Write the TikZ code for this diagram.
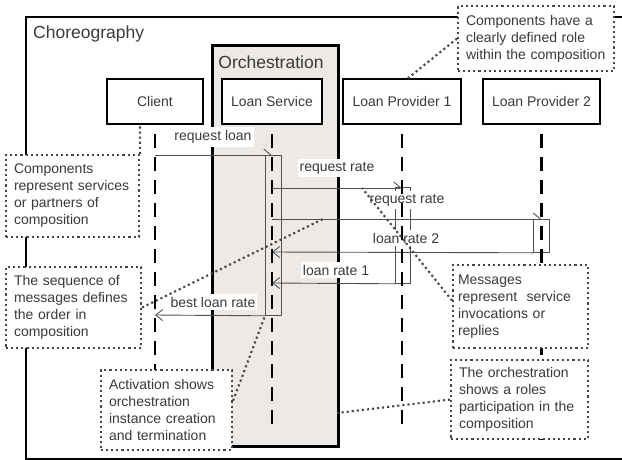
\documentclass[tikz,border=0pt]{standalone}
\usepackage{fontspec}
\setmainfont{Liberation Sans}
\usetikzlibrary{arrows.meta}

\definecolor{orchfill}{RGB}{236,233,230}
\definecolor{inkgray}{RGB}{58,58,58}
\definecolor{msggray}{RGB}{80,80,80}
\definecolor{dotgray}{RGB}{70,70,70}

\tikzset{
  txt/.style={font=\fontsize{14}{16}\selectfont, text=inkgray},
  titletxt/.style={font=\fontsize{17.5}{20}\selectfont, text=inkgray},
  header/.style={draw=black, line width=2pt, fill=white, minimum height=45pt,
    inner sep=0pt, txt},
  lifeline/.style={draw=black, line width=2.3pt, dash pattern=on 14pt off 9pt,
    dash phase=14pt},
  activation/.style={draw=msggray, line width=0.8pt, inner sep=0pt, anchor=north west},
  msg/.style={draw=msggray, line width=0.9pt},
  callmsg/.style={msg, -{Straight Barb[left, length=7pt, width=12pt]}},
  replymsg/.style={msg, -{Straight Barb[length=7pt, width=11pt]}},
  msglabel/.style={txt, fill=white, inner xsep=2pt, inner ysep=3pt},
  dots/.style={draw=dotgray, line width=2.1pt, line cap=butt,
    dash pattern=on 2.1pt off 3pt},
  note/.style={dots, fill=white, font=\fontsize{14}{17}\selectfont, text=inkgray,
    align=left, anchor=north west, inner xsep=8pt, inner ysep=0pt},
}

\begin{document}
\begin{tikzpicture}[x=1pt, y=-1pt]
  \useasboundingbox (0,0) rectangle (622,459);
  \clip (0,0) rectangle (622,459);

  % choreography frame (its right side runs off the page)
  \node[draw=black, line width=2.2pt, inner sep=0pt, anchor=north west,
        minimum width=640pt, minimum height=442pt] (chor) at (25,16) {};
  \node[titletxt, anchor=west, inner sep=0pt] (chortitle) at (33,34) {Choreography};

  % orchestration frame
  \node[draw=black, line width=3.4pt, fill=orchfill, inner sep=0pt, anchor=north west,
        minimum width=126pt, minimum height=401pt] (orch) at (211,44) {};
  \node[titletxt, inner sep=0pt] (orchtitle) at (271,62) {Orchestration};

  % participants
  \node[header, minimum width=96pt]  (client) at (155,101.5)   {Client};
  \node[header, minimum width=100pt] (ls)     at (272,101.5)   {Loan Service};
  \node[header, minimum width=118pt] (lp1)    at (402,101.5)   {Loan Provider 1};
  \node[header, minimum width=117pt] (lp2)    at (541.5,101.5) {Loan Provider 2};

  % activation bars
  \node[activation, minimum width=16pt, minimum height=160pt] (actls) at (265,155) {};
  \node[activation, minimum width=15pt, minimum height=96pt]  (actp1) at (395,187) {};
  \node[activation, minimum width=16pt, minimum height=33pt]  (actp2) at (533,219) {};

  % points on the lifelines
  \coordinate (clientEnd) at (155,440);
  \coordinate (lsEnd)     at (272,432);
  \coordinate (lp1End)    at (402,432);
  \coordinate (lp2End)    at (541.5,440);

  \coordinate (c1)  at (155,155);   \coordinate (s1) at (272,155);
  \coordinate (s2)  at (272,188);   \coordinate (p2) at (402,188);
  \coordinate (s3)  at (272,219);   \coordinate (q3) at (541.5,219);
  \coordinate (s4)  at (272,252);
  \coordinate (s5)  at (272,283);
  \coordinate (c6)  at (155,315);

  % messages
  \draw[callmsg]  (c1) -- (s1);
  \draw[callmsg]  (s2) -- (p2);
  \draw[callmsg]  (s3) -- (q3);
  \draw[replymsg] (actp2.south west) -- (s4);
  \draw[replymsg] (actp1.south west) -- (s5);
  \draw[replymsg] (actls.south west) -- (c6);

  % message labels
  \node[msglabel] (lblreqloan)  at (213,137) {request loan};
  \node[msglabel] (lblreqrate1) at (337,168) {request rate};
  \node[msglabel] (lblreqrate2) at (407,200) {request rate};
  \node[msglabel] (lblrate2)    at (406,238) {loan rate 2};
  \node[msglabel] (lblrate1)    at (336,270) {loan rate 1};
  \node[msglabel] (lblbest)     at (213,302) {best loan rate};

  % lifelines
  \draw[lifeline] (client.south) -- (clientEnd);
  \draw[lifeline] (ls.south)     -- (lsEnd);
  \draw[lifeline] (lp1.south)    -- (lp1End);
  \draw[lifeline] (lp2.south)    -- (lp2End);

  % notes
  \node[note, text width=140pt, minimum height=65pt] (noteA) at (457,5)
    {Components have a\\clearly defined role\\within the composition};
  \node[note, text width=117pt, minimum height=82pt] (noteB) at (5,154)
    {Components\\represent services\\or partners of\\composition};
  \node[note, text width=119pt, minimum height=81pt] (noteC) at (5,266)
    {The sequence of\\messages defines\\the order in\\composition};
  \node[note, inner xsep=5pt, text width=125pt, minimum height=83pt] (noteD) at (452,264)
    {Messages\\represent\ \ service\\invocations or\\replies};
  \node[note, text width=115pt, minimum height=80pt] (noteE) at (100,369)
    {Activation shows\\orchestration\\instance creation\\and termination};
  \node[note, text width=121pt, minimum height=79pt] (noteF) at (450,359)
    {The orchestration\\shows a roles\\participation in the\\composition};

  % note pointers
  \coordinate (lp1top)   at (407,79);
  \coordinate (clientbt) at (140,124);
  \coordinate (onmsg3)   at (323,219);
  \coordinate (onmsg2)   at (362,188);
  \coordinate (orchedge) at (337,413);

  \draw[dots] (noteA.west)       -- (lp1top);
  \draw[dots] (noteB.north east) -- (clientbt);
  \draw[dots] (noteC.east)       -- (onmsg3);
  \draw[dots] (noteD.175)        -- (onmsg2);
  \draw[dots] (noteE.8)          -- (actls.south west);
  \draw[dots] (noteF.west)       -- (orchedge);
\end{tikzpicture}
\end{document}
